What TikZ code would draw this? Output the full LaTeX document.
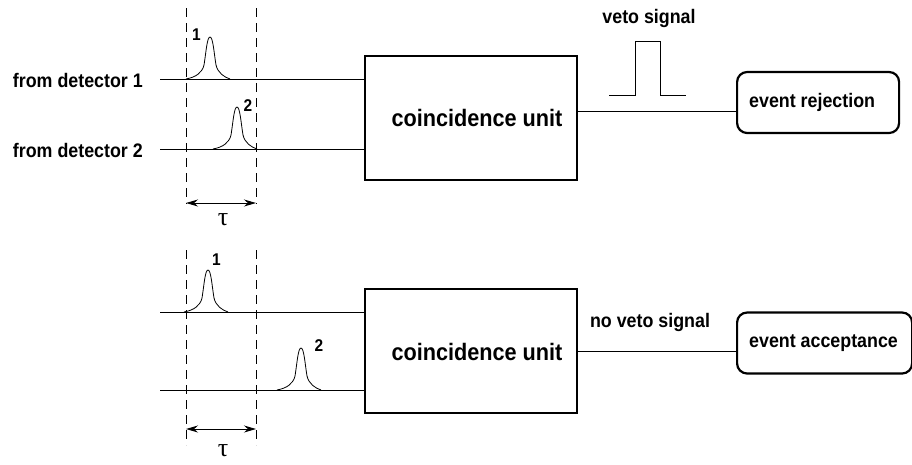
\documentclass[tikz,border=0pt]{standalone}
\usepackage{fontspec}
\setmainfont{Liberation Sans}[FakeStretch=0.91]
\newfontfamily\greekserif{Liberation Serif}
\usetikzlibrary{arrows.meta}

\begin{document}
\begin{tikzpicture}[x=1pt,y=-1pt,
  wire/.style={line width=1pt},
  window/.style={line width=1pt, dash pattern=on 9pt off 6pt},
  unitbox/.style={draw, line width=1.3pt, minimum width=212pt, minimum height=124pt, inner sep=0pt},
  unitlabel/.style={font=\fontsize{23.8}{26}\selectfont\bfseries, inner sep=0pt},
  outbox/.style={draw, line width=2.2pt, rounded corners=10pt, minimum height=61pt,
    inner sep=0pt, anchor=west},
  outtext/.style={anchor=west, xshift=13pt, inner sep=0pt,
    font=\fontsize{19.6}{22}\selectfont\bfseries},
  inlabel/.style={font=\fontsize{19.6}{22}\selectfont\bfseries, inner sep=0pt},
  peaknum/.style={font=\fontsize{17}{19}\selectfont\bfseries, inner sep=0pt},
  taulabel/.style={font=\fontsize{26}{28}\selectfont\greekserif, inner sep=0pt},
  tauspan/.style={line width=1pt, {Stealth[length=12pt,width=7pt]}-{Stealth[length=12pt,width=7pt]}},
  gpulse/.pic={\draw[line width=0.8pt] (-24,0)
      .. controls (-14,-2) and (-8,-6) .. (-6,-14)
      .. controls (-4,-26) and (-3,-42) .. (0,-42)
      .. controls (3,-42) and (4,-26) .. (6,-14)
      .. controls (8,-6) and (14,-2) .. (20,0);}
]
\useasboundingbox (0,0) rectangle (912,464);
\fill[white] (0,0) rectangle (912,464);

% ---------- upper panel: coincidence ----------
\node[unitbox, label={[unitlabel, xshift=6pt]center:coincidence unit}] (cu1) at (471,118) {};
\node[inlabel, anchor=east] (d1) at (143,80) {from detector 1};
\node[inlabel, anchor=east] (d2) at (143,150) {from detector 2};
\coordinate (a1) at (160,79);
\coordinate (a2) at (160,149);
\draw[wire] (a1) -- (a1 -| cu1.west);
\draw[wire] (a2) -- (a2 -| cu1.west);

% time window
\coordinate (w1t) at (186,8);   \coordinate (w1b) at (186,204);
\coordinate (w2t) at (256,8);   \coordinate (w2b) at (256,204);
\draw[window] (w1t) -- (w1b);
\draw[window] (w2t) -- (w2b);
\coordinate (t1l) at (186,203); \coordinate (t1r) at (256,203);
\draw[tauspan] (t1l) -- (t1r);
\node[taulabel] (tau1) at (223,220) {τ};

% pulses
\pic at (210,79) {gpulse};
\pic at (237,149) {gpulse};
\node[peaknum] (p11) at (196.5,34.5) {1};
\node[peaknum] (p12) at (248,106) {2};

% veto output
\node[outbox, minimum width=162pt, label={[outtext]west:event rejection}] (rej) at (736,102.5) {};
\coordinate (o1) at (0,111);
\draw[wire] (cu1.east |- o1) -- (rej.west |- o1);
\coordinate (v0) at (609,95);
\coordinate (v1) at (635,41);
\coordinate (v2) at (660,41);
\coordinate (v3) at (686,95);
\draw[wire] (v0) -- (v0 -| v1) -- (v1) -- (v2) -- (v2 |- v3) -- (v3);
\node[inlabel] (vs) at (649,18) {veto signal};

% ---------- lower panel: no coincidence ----------
\node[unitbox, label={[unitlabel, xshift=6pt, yshift=-1pt]center:coincidence unit}] (cu2) at (471,351) {};
\coordinate (b1) at (160,312);
\coordinate (b2) at (160,390);
\draw[wire] (b1) -- (b1 -| cu2.west);
\draw[wire] (b2) -- (b2 -| cu2.west);

\coordinate (x1t) at (186,250); \coordinate (x1b) at (186,445);
\coordinate (x2t) at (256,250); \coordinate (x2b) at (256,445);
\draw[window] (x1t) -- (x1b);
\draw[window] (x2t) -- (x2b);
\coordinate (t2l) at (186,429); \coordinate (t2r) at (256,429);
\draw[tauspan] (t2l) -- (t2r);
\node[taulabel] (tau2) at (223,451) {τ};

\pic at (208,312) {gpulse};
\pic at (301,390) {gpulse};
\node[peaknum] (p21) at (216.5,259.5) {1};
\node[peaknum] (p22) at (319,346) {2};

\node[outbox, minimum width=175pt, label={[outtext]west:event acceptance}] (acc) at (736,343) {};
\draw[wire] (cu2.east) -- (acc.west |- cu2.east);
\node[inlabel] (nvs) at (650,322) {no veto signal};
\end{tikzpicture}
\end{document}
